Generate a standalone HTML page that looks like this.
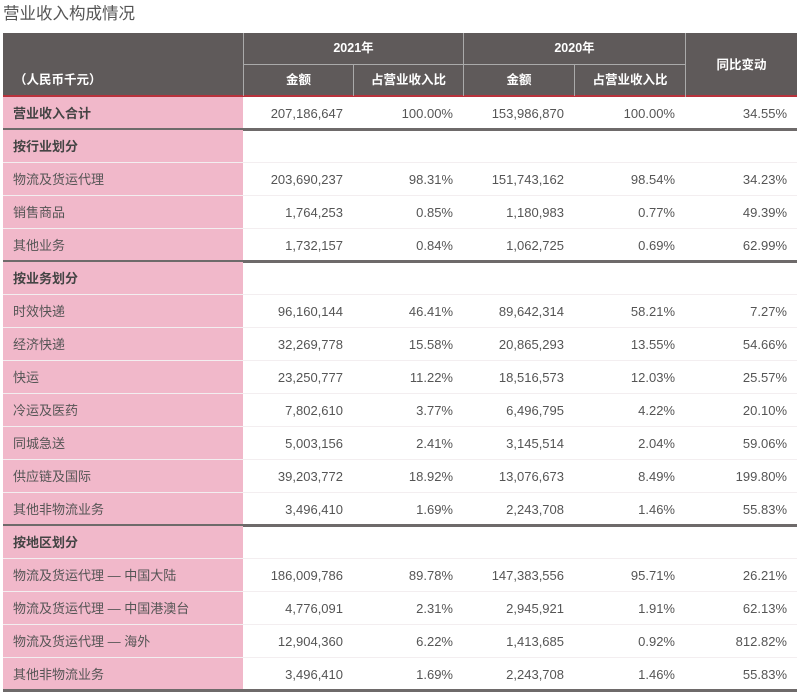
<!DOCTYPE html>
<html><head><meta charset="utf-8">
<style>
body{margin:0;background:#fff;width:800px;height:696px;overflow:hidden;position:relative;font-family:"Liberation Sans","Noto Sans CJK SC",sans-serif;color:#555}
.a{position:absolute;box-sizing:border-box}
.t{white-space:nowrap;font-size:13px;line-height:33px}
.h{color:#fff;font-weight:bold;font-size:12.5px;text-align:center}
</style></head><body>
<div class="a" style="left:3px;top:2px;font-size:16.5px;color:#555;line-height:24px">营业收入构成情况</div>
<div id="tbl"></div>
<script>
const labels=["营业收入合计","按行业划分","物流及货运代理","销售商品","其他业务","按业务划分","时效快递","经济快递","快运","冷运及医药","同城急送","供应链及国际","其他非物流业务","按地区划分","物流及货运代理 — 中国大陆","物流及货运代理 — 中国港澳台","物流及货运代理 — 海外","其他非物流业务"];
const amt2021=["207,186,647","","203,690,237","1,764,253","1,732,157","","96,160,144","32,269,778","23,250,777","7,802,610","5,003,156","39,203,772","3,496,410","","186,009,786","4,776,091","12,904,360","3,496,410"];
const pct2021=["100.00%","","98.31%","0.85%","0.84%","","46.41%","15.58%","11.22%","3.77%","2.41%","18.92%","1.69%","","89.78%","2.31%","6.22%","1.69%"];
const amt2020=["153,986,870","","151,743,162","1,180,983","1,062,725","","89,642,314","20,865,293","18,516,573","6,496,795","3,145,514","13,076,673","2,243,708","","147,383,556","2,945,921","1,413,685","2,243,708"];
const pct2020=["100.00%","","98.54%","0.77%","0.69%","","58.21%","13.55%","12.03%","4.22%","2.04%","8.49%","1.46%","","95.71%","1.91%","0.92%","1.46%"];
const yoy=["34.55%","","34.23%","49.39%","62.99%","","7.27%","54.66%","25.57%","20.10%","59.06%","199.80%","55.83%","","26.21%","62.13%","812.82%","55.83%"];
const boldRows=[0,1,5,13];
const thickAfter=[0,4,12,17];

const T=document.getElementById('tbl');
function box(name,css,txt,cls){const d=document.createElement('div');d.className='a '+(cls||'');d.style.cssText=css;if(txt!==undefined)d.textContent=txt;


T.appendChild(d);return d;}
// header
box('table-header','left:3px;top:33px;width:794px;height:64px;background:#5f5a5a;border-bottom:2px solid #b8323c');
box('header-unit','left:14px;top:64px;line-height:32px;',"（人民币千元）",'h');
box('header-2021','left:243px;top:33px;width:220px;line-height:31px;border-left:1px solid #aaa',"2021年",'h');
box('header-2020','left:463px;top:33px;width:222px;line-height:31px;border-left:1px solid #aaa',"2020年",'h');
box('header-yoy','left:685px;top:33px;width:112px;line-height:64px;border-left:1px solid #aaa',"同比变动",'h');
box('header-sub-line','left:243px;top:64px;width:442px;height:1px;background:#aaa');
const sub=[["金额",243,110],["占营业收入比",353,110],["金额",463,111],["占营业收入比",574,111]];
sub.forEach((s,i)=>box('header-sub-'+i,`left:${s[1]}px;top:64px;width:${s[2]}px;line-height:32px;border-left:1px solid #aaa`,s[0],'h'));
// rows
const y0=97,rh=33;
const cols=[[amt2021,243,110],[pct2021,353,110],[amt2020,463,111],[pct2020,574,111],[yoy,685,112]];
labels.forEach((lab,i)=>{
  const y=y0+i*rh;
  box('row-label-'+i,`left:3px;top:${y}px;width:240px;height:${rh}px;background:#f1b8ca;padding-left:10px;${boldRows.includes(i)?'font-weight:bold;color:#444;':''}`,lab,'t');
  cols.forEach((c,j)=>{
    box('cell-'+i+'-'+j,`left:${c[1]}px;top:${y}px;width:${c[2]}px;height:${rh}px;text-align:right;padding-right:10px`,c[0][i],'t');
  });
  if(thickAfter.includes(i)) box('section-divider-'+i,`left:3px;top:${y+rh-2}px;width:794px;height:3px;background:#6e6a6a`);
  else box('row-divider-'+i,`left:3px;top:${y+rh-1}px;width:794px;height:1px;background:#f3eef0`);
});
</script>
</body></html>
